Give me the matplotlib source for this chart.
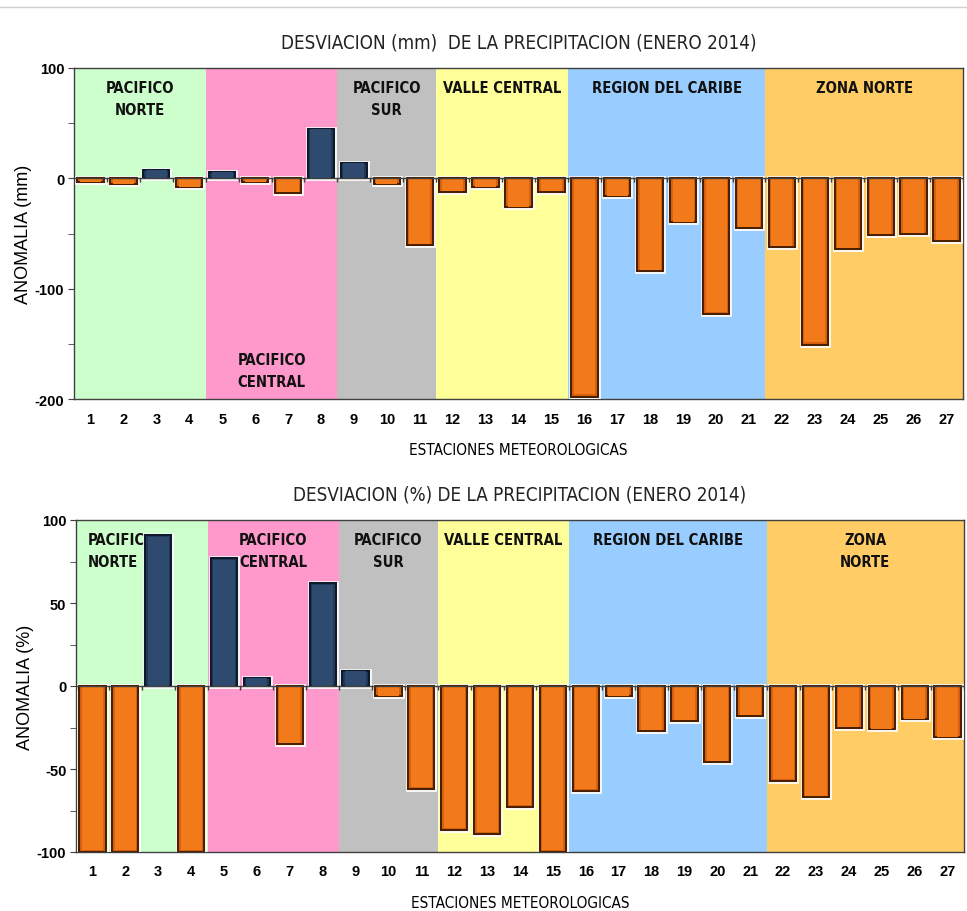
import numpy as np
import matplotlib
matplotlib.use("Agg")
import matplotlib.pyplot as plt
from matplotlib import font_manager as fm
from matplotlib.font_manager import FontProperties
from matplotlib.lines import Line2D

# ---------------- data ----------------
stations = list(range(1, 28))
dev_mm = [-3, -5, 8, -8, 6, -3, -13, 45, 14, -5, -60, -12, -8, -26, -12,
          -198, -16, -84, -40, -123, -45, -62, -151, -64, -51, -50, -57]
dev_pct = [-100, -100, 91, -100, 77, 5, -35, 62, 9, -6, -62, -87, -89, -73, -100,
           -63, -6, -27, -21, -46, -18, -57, -67, -25, -26, -20, -31]

regions_top = ["PACIFICO\nNORTE", "PACIFICO\nCENTRAL", "PACIFICO\nSUR",
               "VALLE CENTRAL", "REGION DEL CARIBE", "ZONA NORTE"]
regions_bot = ["PACIFIC\nNORTE", "PACIFICO\nCENTRAL", "PACIFICO\nSUR",
               "VALLE CENTRAL", "REGION DEL CARIBE", "ZONA\nNORTE"]
region_first = [1, 5, 9, 12, 16, 22]
region_last = [4, 8, 11, 15, 21, 27]
region_colors = ["#CCFFCC", "#FF99CC", "#C0C0C0", "#FFFF99", "#99CCFF", "#FFCC66"]

title_top = "DESVIACION (mm)  DE LA PRECIPITACION (ENERO 2014)"
title_bot = "DESVIACION (%) DE LA PRECIPITACION (ENERO 2014)"
ylabel_top = "ANOMALIA (mm)"
ylabel_bot = "ANOMALIA (%)"
xlabel = "ESTACIONES METEOROLOGICAS"

# ---------------- fonts ----------------
names = {f.name for f in fm.fontManager.ttflist}
SANS = "Liberation Sans" if "Liberation Sans" in names else "DejaVu Sans"
plt.rcParams["font.family"] = [SANS, "DejaVu Sans"]
plt.rcParams["axes.unicode_minus"] = False


def find_condensed(bold):
    prefs = ["LiberationSansNarrow", "DejaVuSansCondensed", "RobotoCondensed",
             "NotoSansCondensed", "NotoSans-Condensed", "OpenSansCondensed",
             "OpenSans-Condensed", "Condensed", "Narrow"]
    files = [f for f in fm.fontManager.ttflist]
    for p in prefs:
        for f in files:
            base = f.fname.split("/")[-1].replace(" ", "")
            if p.lower() in base.lower() and "italic" not in base.lower() \
                    and "oblique" not in base.lower():
                isbold = ("bold" in base.lower()) and ("semibold" not in base.lower()) \
                    and ("extrabold" not in base.lower())
                isplain = not any(k in base.lower() for k in
                                  ("bold", "light", "thin", "medium", "black", "semi", "extra"))
                if (bold and isbold) or ((not bold) and isplain):
                    return f.fname
    return None


cond_reg = find_condensed(False)
cond_bold = find_condensed(True)


def fp(size, bold=False):
    fn = cond_bold if bold else cond_reg
    if fn:
        return FontProperties(fname=fn, size=size)
    return FontProperties(family="DejaVu Sans", size=size * 0.85,
                          weight="bold" if bold else "normal")


ORANGE = "#F27A1A"
ORANGE_SIDE = "#D9620E"
ORANGE_EDGE = "#4a2000"
NAVY = "#2E4A6E"
NAVY_SIDE = "#213A5A"
NAVY_EDGE = "#0c1a2c"

W, H = 967, 912
fig = plt.figure(figsize=(W / 100, H / 100), dpi=100)
fig.add_artist(Line2D([0, 1], [1 - 8 / H, 1 - 8 / H], transform=fig.transFigure,
                      color="#d0d0d0", lw=1))


def draw(ax, vals, ylim, major, minor, labels, title, ylabel, special):
    ax.set_xlim(0.5, 27.5)
    ax.set_ylim(*ylim)
    for f, l, c in zip(region_first, region_last, region_colors):
        ax.axvspan(f - 0.5, l + 0.5, color=c, zorder=0, lw=0)
    x = np.array(stations)
    v = np.array(vals, dtype=float)
    pos = v > 0
    sides = [NAVY_SIDE if p else ORANGE_SIDE for p in pos]
    cols = [NAVY if p else ORANGE for p in pos]
    edges = [NAVY_EDGE if p else ORANGE_EDGE for p in pos]
    ax.bar(x, v, width=0.8, color="none", edgecolor="white", lw=3.4, zorder=3)
    ax.bar(x, v, width=0.8, color=sides, edgecolor=edges, lw=1.5, zorder=4)
    ax.bar(x, v * 0.985, width=0.64, color=cols, lw=0, zorder=4.5)
    ax.axhline(0, color="#404040", lw=1.0, zorder=5)
    b = np.arange(0.5, 28, 1.0)
    tl = (ylim[1] - ylim[0]) * 0.012
    ax.vlines(b, -tl, 0, color="#404040", lw=1.0, zorder=5)

    ax.set_yticks(major)
    ax.set_yticks(minor, minor=True)
    ax.tick_params(axis="y", which="both", direction="out", length=4, color="#404040",
                   labelsize=10.5, pad=3)
    for t in ax.get_yticklabels():
        t.set_fontweight("bold")
    ax.set_xticks(x)
    ax.set_xticklabels([str(s) for s in stations], fontweight="bold", fontsize=10.5)
    ax.tick_params(axis="x", length=0, pad=9)
    for s in ax.spines.values():
        s.set_color("#404040")
        s.set_linewidth(1.0)
    ax.set_title(title, fontproperties=fp(13.5), color="#222222", pad=15)
    ax.set_ylabel(ylabel, fontsize=13, labelpad=2)
    ax.set_xlabel(xlabel, fontproperties=fp(11), labelpad=12)

    for i, (lab, f, l) in enumerate(zip(labels, region_first, region_last)):
        cx = (f + l) / 2
        kw = dict(fontproperties=fp(10.6, True),
                  transform=ax.get_xaxis_transform(), zorder=2, linespacing=1.6,
                  color="#111111")
        mode = special.get(i, "top")
        if mode == "bottom":
            ax.text(cx, 0.03, lab, ha="center", va="bottom", **kw)
        elif mode == "left":
            ax.text(f - 0.5 + 0.36, 0.965, lab, ha="left", va="top", **kw)
        else:
            ax.text(cx, 0.965, lab, ha="center", va="top", **kw)


ax1 = fig.add_axes([74 / W, 1 - 400 / H, (963 - 74) / W, (400 - 69) / H])
draw(ax1, dev_mm, (-200, 100), [-200, -100, 0, 100], [-150, -50, 50],
     regions_top, title_top, ylabel_top, {1: "bottom"})

ax2 = fig.add_axes([76 / W, 1 - 853 / H, (964 - 76) / W, (853 - 521) / H])
draw(ax2, dev_pct, (-100, 100), [-100, -50, 0, 50, 100], [-75, -25, 25, 75],
     regions_bot, title_bot, ylabel_bot, {0: "left"})

fig.savefig("out.png", dpi=100)
